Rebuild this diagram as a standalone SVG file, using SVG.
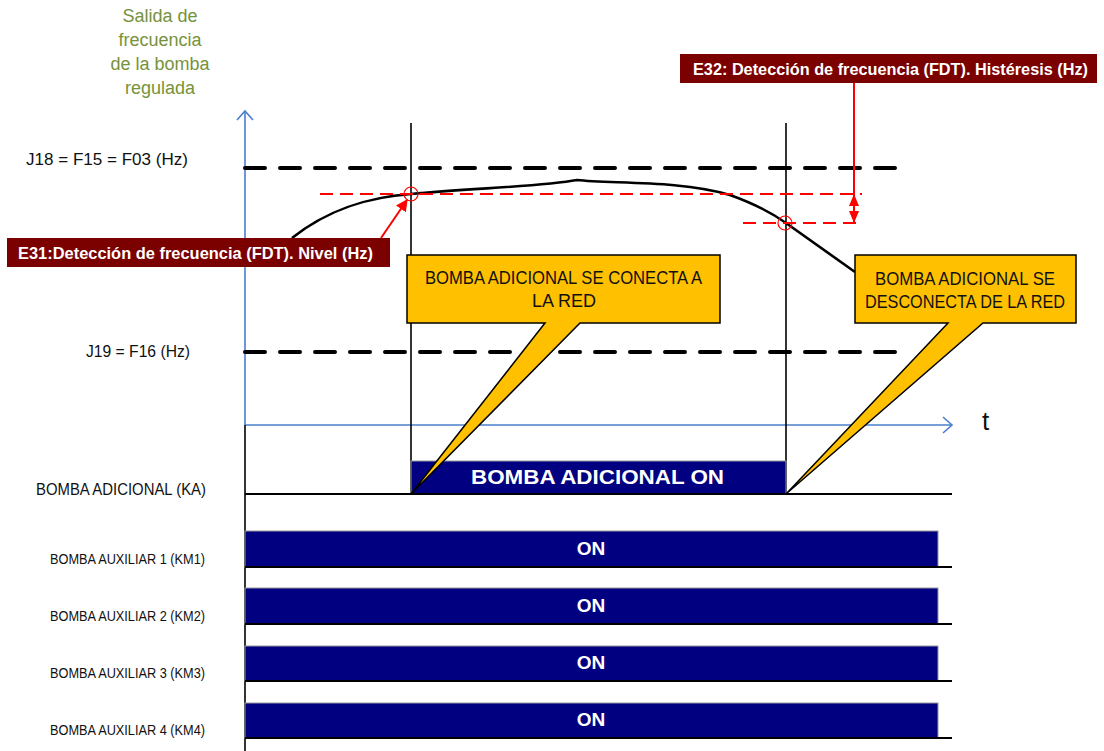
<svg xmlns="http://www.w3.org/2000/svg" width="1104" height="751" viewBox="0 0 1104 751">
<style>
.lbl{font-family:"Liberation Sans",Arial,sans-serif;fill:#111}
.title{font-family:"Liberation Sans",Arial,sans-serif;fill:#76923C;font-size:18px;text-anchor:middle}
.wb{font-family:"Liberation Sans",Arial,sans-serif;fill:#fff;font-weight:bold}
.call{font-family:"Liberation Sans",Arial,sans-serif;fill:#111;font-size:18px}
.blk{stroke:#000;fill:none}
.dash{stroke:#000;stroke-width:4;stroke-dasharray:20 15;stroke-linecap:round;fill:none}
.rdash{stroke:#f00;stroke-width:1.8;stroke-dasharray:13 7;fill:none}
.blue{stroke:#4A7FCB;stroke-width:1.6;fill:none}
.bar{fill:#000080;stroke:#999;stroke-width:1}
.callout{fill:#FFC000;stroke:#000;stroke-width:1.5;stroke-linejoin:miter}
.maroon{fill:#7B0000}
</style>
<defs>
<marker id="redArrow" viewBox="0 0 10 10" refX="9" refY="5" markerWidth="6" markerHeight="6" orient="auto" markerUnits="strokeWidth">
<path d="M0,0 L10,5 L0,10 z" fill="#f00"/>
</marker>
</defs>
<rect width="1104" height="751" fill="#fff"/>

<g id="title">
<text class="title" x="160" y="22">Salida de</text>
<text class="title" x="160" y="46">frecuencia</text>
<text class="title" x="160" y="70">de la bomba</text>
<text class="title" x="160" y="94">regulada</text>
</g>

<g id="axes">
<polyline class="blue" points="245,425 245,111"/>
<polyline class="blue" points="237,120 245,111 253,120"/>
<polyline class="blue" points="245,425 952,425"/>
<polyline class="blue" points="943,417 952,425 943,433"/>
<text class="lbl" x="982" y="430" font-size="26">t</text>
<line class="blk" x1="245" y1="425" x2="245" y2="751" stroke-width="1.6"/>
</g>

<g id="levels">
<text class="lbl" x="26" y="165" font-size="16" textLength="162" lengthAdjust="spacingAndGlyphs">J18 = F15 = F03 (Hz)</text>
<line class="dash" x1="245" y1="168" x2="898" y2="168"/>
<text class="lbl" x="86" y="357" font-size="16" textLength="104" lengthAdjust="spacingAndGlyphs">J19 = F16 (Hz)</text>
<line class="dash" x1="245" y1="352" x2="898" y2="352"/>
</g>

<g id="markers">
<line class="blk" x1="411" y1="123" x2="411" y2="494" stroke-width="1.6"/>
<line class="blk" x1="786" y1="123" x2="786" y2="494" stroke-width="1.6"/>
</g>

<g id="curve">
<path class="blk" stroke-width="2.6" d="M292,238 C330,208 370,197 411,194 C470,188 540,187 577,180 C610,184 680,180 730,195 C755,204 772,213 786,223 L855,272"/>
</g>

<g id="fdt">
<line class="rdash" x1="320" y1="194" x2="862" y2="194"/>
<line class="rdash" x1="743" y1="223" x2="862" y2="223"/>
<circle cx="411" cy="194" r="7" fill="none" stroke="#f00" stroke-width="1.2"/>
<circle cx="785" cy="223" r="7" fill="none" stroke="#f00" stroke-width="1.2"/>
</g>

<g id="connectors">
<line x1="381" y1="238" x2="407" y2="200" stroke="#f00" stroke-width="2" marker-end="url(#redArrow)"/>
<line x1="854" y1="83" x2="854" y2="223" stroke="#f00" stroke-width="2"/>
<path d="M854,194 L849,206 L859,206 Z M854,223 L849,211 L859,211 Z" fill="#f00"/>
</g>

<g id="e31">
<rect class="maroon" x="7" y="238" width="383" height="29"/>
<text class="wb" x="18" y="259" font-size="17" textLength="355" lengthAdjust="spacingAndGlyphs">E31:Detección de frecuencia (FDT). Nivel (Hz)</text>
</g>

<g id="e32">
<rect class="maroon" x="680" y="54" width="417" height="29"/>
<text class="wb" x="693" y="75" font-size="17" textLength="395" lengthAdjust="spacingAndGlyphs">E32: Detección de frecuencia (FDT). Histéresis (Hz)</text>
</g>

<g id="ka">
<text class="lbl" x="36" y="495" font-size="17" textLength="170" lengthAdjust="spacingAndGlyphs">BOMBA ADICIONAL (KA)</text>
<rect class="bar" x="411" y="461" width="375" height="33"/>
<line class="blk" x1="245" y1="494" x2="952" y2="494" stroke-width="2"/>
<text class="wb" x="471" y="484" font-size="21" textLength="253" lengthAdjust="spacingAndGlyphs">BOMBA ADICIONAL ON</text>
</g>

<g id="km1">
<text class="lbl" x="50" y="564" font-size="14" textLength="155" lengthAdjust="spacingAndGlyphs">BOMBA AUXILIAR 1 (KM1)</text>
<rect class="bar" x="245" y="531" width="693" height="36"/>
<line class="blk" x1="245" y1="567" x2="952" y2="567" stroke-width="2"/>
<text class="wb" x="591" y="555" font-size="19" text-anchor="middle">ON</text>
</g>
<g id="km2">
<text class="lbl" x="50" y="621" font-size="14" textLength="155" lengthAdjust="spacingAndGlyphs">BOMBA AUXILIAR 2 (KM2)</text>
<rect class="bar" x="245" y="588" width="693" height="36"/>
<line class="blk" x1="245" y1="624" x2="952" y2="624" stroke-width="2"/>
<text class="wb" x="591" y="612" font-size="19" text-anchor="middle">ON</text>
</g>
<g id="km3">
<text class="lbl" x="50" y="678" font-size="14" textLength="155" lengthAdjust="spacingAndGlyphs">BOMBA AUXILIAR 3 (KM3)</text>
<rect class="bar" x="245" y="646" width="693" height="35"/>
<line class="blk" x1="245" y1="681" x2="952" y2="681" stroke-width="2"/>
<text class="wb" x="591" y="669" font-size="19" text-anchor="middle">ON</text>
</g>
<g id="km4">
<text class="lbl" x="50" y="735" font-size="14" textLength="155" lengthAdjust="spacingAndGlyphs">BOMBA AUXILIAR 4 (KM4)</text>
<rect class="bar" x="245" y="703" width="693" height="35"/>
<line class="blk" x1="245" y1="738" x2="952" y2="738" stroke-width="2"/>
<text class="wb" x="591" y="726" font-size="19" text-anchor="middle">ON</text>
</g>

<g id="callout-conecta">
<path class="callout" d="M407,255 H720 V323 H580 L411,494 L545,323 H407 Z"/>
<text class="call" x="425" y="284" textLength="277" lengthAdjust="spacingAndGlyphs">BOMBA ADICIONAL SE CONECTA A</text>
<text class="call" x="564" y="307" text-anchor="middle">LA RED</text>
</g>

<g id="callout-desconecta">
<path class="callout" d="M855,255 H1076 V323 H983 L786,494 L948,323 H855 Z"/>
<text class="call" x="875" y="285" textLength="180" lengthAdjust="spacingAndGlyphs">BOMBA ADICIONAL SE</text>
<text class="call" x="865" y="308" textLength="200" lengthAdjust="spacingAndGlyphs">DESCONECTA DE LA RED</text>
</g>
</svg>
